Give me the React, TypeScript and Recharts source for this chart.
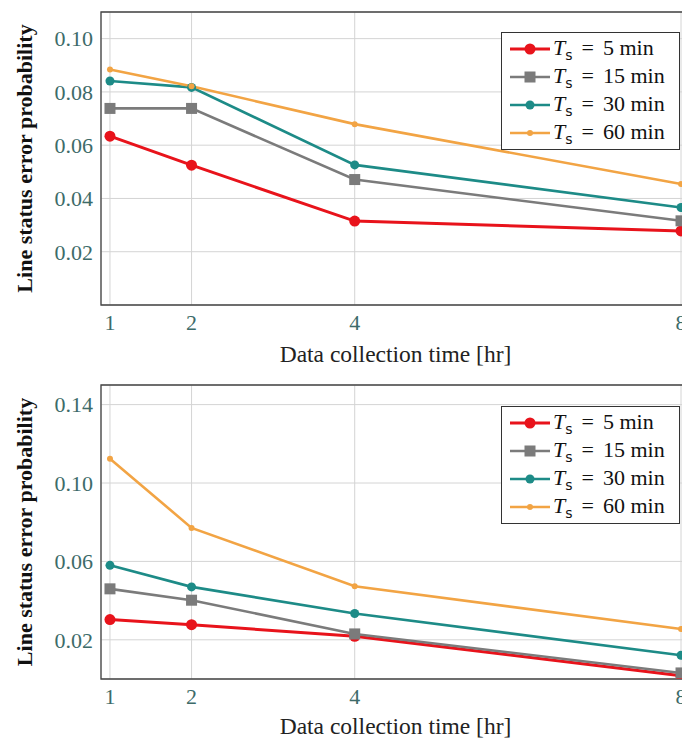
import { LineChart, Line, XAxis, YAxis, CartesianGrid, Legend, ReferenceArea } from 'recharts'

const HOURS = [1, 2, 4, 8]
const SAMPLING_MIN = [5, 15, 30, 60]

// upper panel
const TOP_TS5 = [0.0634, 0.0525, 0.0315, 0.0278]
const TOP_TS15 = [0.0738, 0.0738, 0.0471, 0.0316]
const TOP_TS30 = [0.0841, 0.0817, 0.0526, 0.0366]
const TOP_TS60 = [0.0884, 0.0821, 0.0679, 0.0454]
const TOP_Y_TICKS = [0.02, 0.04, 0.06, 0.08, 0.1]
const TOP_Y_MAX = 0.11

// lower panel
const BOT_TS5 = [0.0303, 0.0277, 0.0218, 0.0017]
const BOT_TS15 = [0.046, 0.0402, 0.023, 0.0031]
const BOT_TS30 = [0.058, 0.047, 0.0334, 0.0121]
const BOT_TS60 = [0.1124, 0.0771, 0.0473, 0.0255]
const BOT_Y_TICKS = [0.02, 0.06, 0.1, 0.14]
const BOT_Y_MAX = 0.15

const X_TICKS = [1, 2, 4, 8]
const X_DOMAIN = [0.89, 8.11]

const FONT = 'Liberation Serif, Times New Roman, DejaVu Serif, serif'
const TICK_COLOR = '#3d6b69'

const SERIES = [
  { key: 'ts5', color: '#e8131b', width: 3, marker: 'circle', size: 5.5 },
  { key: 'ts15', color: '#7b7b7b', width: 2.6, marker: 'square', size: 5.5 },
  { key: 'ts30', color: '#1d8b87', width: 2.6, marker: 'circle', size: 4.5 },
  { key: 'ts60', color: '#f2a444', width: 2.6, marker: 'circle', size: 3 },
]

const buildRows = (series: number[][]) =>
  HOURS.map((h, i) => ({ x: h, ts5: series[0][i], ts15: series[1][i], ts30: series[2][i], ts60: series[3][i] }))

const TOP_DATA = buildRows([TOP_TS5, TOP_TS15, TOP_TS30, TOP_TS60])
const BOT_DATA = buildRows([BOT_TS5, BOT_TS15, BOT_TS30, BOT_TS60])

const marker = (s: typeof SERIES[number], cx: number, cy: number, key?: string) =>
  s.marker === 'square'
    ? <rect key={key} x={cx - s.size} y={cy - s.size} width={s.size * 2} height={s.size * 2} fill={s.color} />
    : <circle key={key} cx={cx} cy={cy} r={s.size} fill={s.color} />

const LegendBox = () => (
  <div style={{ border: '1px solid #333', background: '#fff', padding: '2px 0 2px 8px', fontFamily: FONT, fontSize: 22, color: '#111' }}>
    {SERIES.map((s, i) => (
      <div key={s.key} style={{ display: 'flex', alignItems: 'center', height: 28 }}>
        <svg width={40} height={16} style={{ marginRight: 3 }}>
          <line x1={0} x2={40} y1={8} y2={8} stroke={s.color} strokeWidth={s.width} />
          {marker(s, 20, 8)}
        </svg>
        <span style={{ whiteSpace: 'nowrap' }}>
          <i>T</i><sub style={{ fontSize: 14, fontFamily: 'DejaVu Sans, sans-serif' }}>s</sub>
          <span style={{ margin: '0 9px' }}>=</span>{SAMPLING_MIN[i]} min
        </span>
      </div>
    ))}
  </div>
)

interface PanelProps {
  data: any[]
  yMax: number
  yTicks: number[]
  height: number
  plotTop: number
  plotBottom: number
  legendTop: number
}

function Panel({ data, yMax, yTicks, height, plotTop, plotBottom, legendTop }: PanelProps) {
  const xAxisH = height - plotBottom - 5
  const tick = { fill: TICK_COLOR, fontSize: 22, fontFamily: FONT }
  return (
    <LineChart width={700} height={height} data={data} margin={{ top: plotTop, right: 10, bottom: 5, left: 0 }}
      style={{ fontFamily: FONT }}>
      <CartesianGrid stroke="#d4d4d4" strokeWidth={1} />
      <XAxis dataKey="x" type="number" domain={X_DOMAIN} ticks={X_TICKS} allowDataOverflow interval={0}
        axisLine={false} tickLine={false} tickSize={0} tickMargin={9} height={xAxisH} tick={tick}
        label={{ value: 'Data collection time [hr]', position: 'insideBottom', offset: 3, fill: '#222', fontSize: 23.5, fontFamily: FONT }} />
      <YAxis type="number" domain={[0, yMax]} ticks={yTicks} allowDataOverflow interval={0} width={101}
        axisLine={false} tickLine={false} tickSize={0} tickMargin={8} tick={tick}
        tickFormatter={(v: number) => v.toFixed(2)}
        label={{ value: 'Line status error probability', angle: -90, position: 'insideLeft', offset: 24, fill: '#111', fontSize: 22, fontWeight: 'bold', fontFamily: FONT, style: { textAnchor: 'middle' } }} />
      {SERIES.map(s => (
        <Line key={s.key} type="linear" dataKey={s.key} stroke={s.color} strokeWidth={s.width} isAnimationActive={false}
          dot={(p: any) => marker(s, p.cx, p.cy, `${s.key}-${p.index}`)} activeDot={false} />
      ))}
      <ReferenceArea x1={X_DOMAIN[0]} x2={X_DOMAIN[1]} y1={0} y2={yMax} fill="none" stroke="#444" strokeWidth={1.3} ifOverflow="visible" />
      <Legend layout="vertical" verticalAlign="middle" align="center" content={<LegendBox />}
        wrapperStyle={{ left: 501, top: legendTop, width: 179 }} />
    </LineChart>
  )
}

export default function App() {
  return (
    <div style={{ position: 'fixed', left: 0, top: 0, width: 682, height: 742, overflow: 'hidden', background: '#fff' }}>
      <div style={{ position: 'absolute', left: 0, top: 0 }}>
        <Panel data={TOP_DATA} yMax={TOP_Y_MAX} yTicks={TOP_Y_TICKS} height={370} plotTop={12} plotBottom={305} legendTop={32} />
      </div>
      <div style={{ position: 'absolute', left: 0, top: 370 }}>
        <Panel data={BOT_DATA} yMax={BOT_Y_MAX} yTicks={BOT_Y_TICKS} height={372} plotTop={15} plotBottom={309} legendTop={36} />
      </div>
    </div>
  )
}
